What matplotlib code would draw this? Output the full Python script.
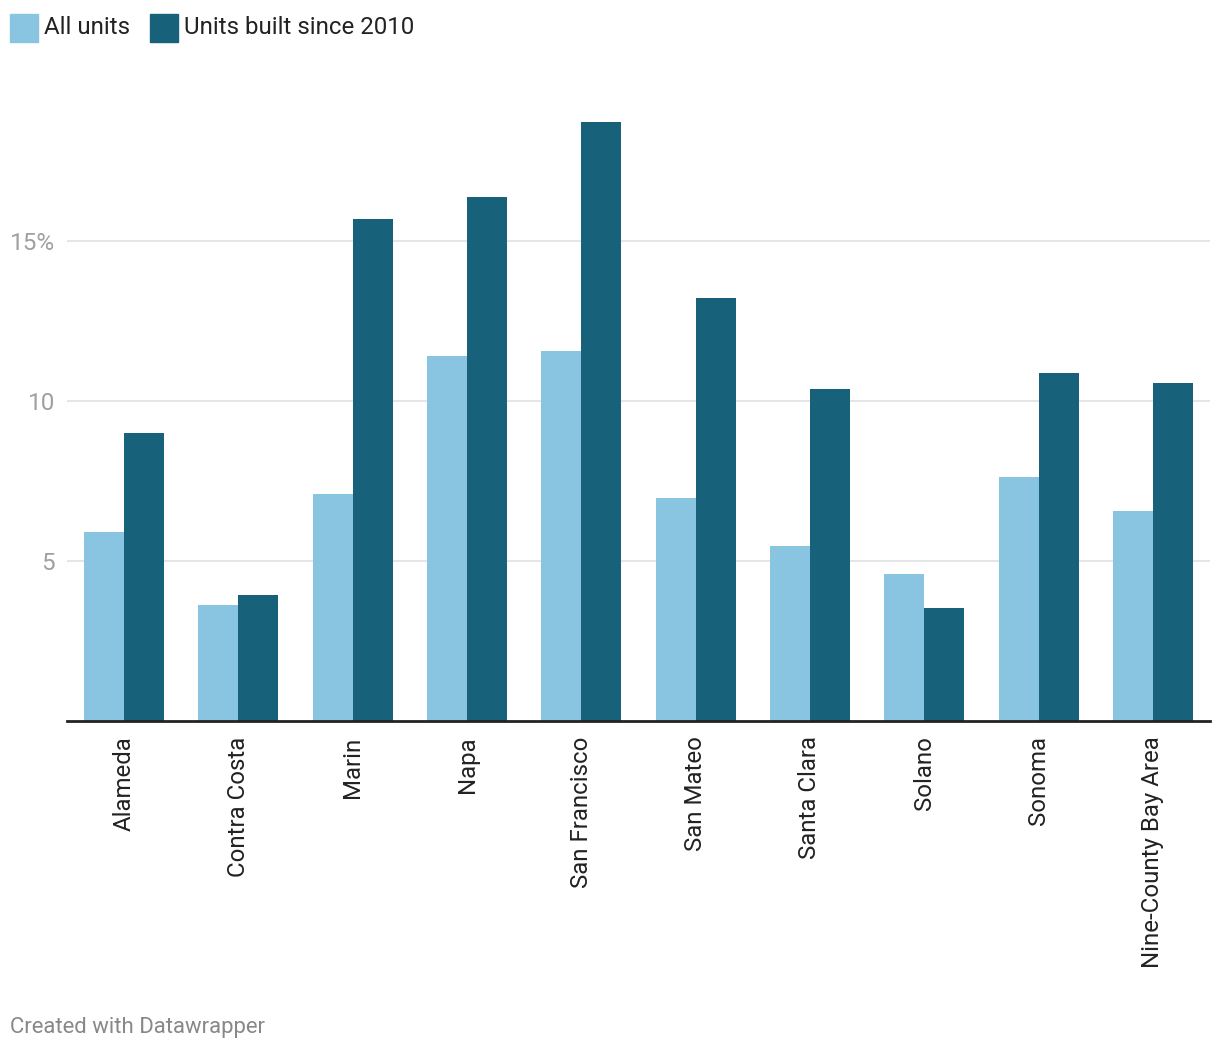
import matplotlib
matplotlib.use("Agg")
import matplotlib.pyplot as plt
import numpy as np
from matplotlib.patches import Rectangle

categories = ["Alameda", "Contra Costa", "Marin", "Napa", "San Francisco",
              "San Mateo", "Santa Clara", "Solano", "Sonoma", "Nine-County Bay Area"]
all_units = [5.9, 3.63, 7.09, 11.41, 11.56, 6.97, 5.47, 4.59, 7.63, 6.56]
since_2010 = [9.0, 3.94, 15.69, 16.38, 18.72, 13.22, 10.38, 3.53, 10.88, 10.56]
series_names = ["All units", "Units built since 2010"]
y_ticks = [5, 10, 15]
y_tick_labels = ["5", "10", "15%"]

light = "#89c4e1"
dark = "#17617a"

plt.rcParams['font.family'] = ['Roboto', 'DejaVu Sans']

W, H = 1220, 1050
fig = plt.figure(figsize=(W / 100, H / 100), dpi=100)
ax = fig.add_axes([67 / W, (H - 721) / H, (1210 - 67) / W, (721 - 113) / H])

x = np.arange(len(categories))
bw = 0.35
ax.bar(x - bw / 2, all_units, width=bw, color=light, zorder=3)
ax.bar(x + bw / 2, since_2010, width=bw, color=dark, zorder=3)

ax.set_xlim(-0.5, len(categories) - 0.5)
ax.set_ylim(0, 19)
for s in ["top", "right", "left"]:
    ax.spines[s].set_visible(False)
ax.spines["bottom"].set_color("#222222")
ax.spines["bottom"].set_linewidth(2)
ax.spines["bottom"].set_zorder(5)

ax.set_yticks(y_ticks)
ax.set_yticklabels(y_tick_labels, color="#a0a0a0", fontsize=17.5)
ax.tick_params(axis="y", length=0, pad=8.5)
ax.grid(axis="y", color="#e3e3e3", linewidth=1.3, zorder=0)

ax.set_xticks(x)
ax.set_xticklabels(categories, rotation=90, fontsize=17.3, color="#222222",
                   ha="center", va="top")
ax.tick_params(axis="x", length=0, pad=11)

# legend
for i, (name, col, x0) in enumerate(zip(series_names, [light, dark], [10, 150])):
    fig.patches.append(Rectangle((x0 / W, (H - 42) / H), 28 / W, 28 / H,
                                 transform=fig.transFigure, color=col))
    fig.text((x0 + 34) / W, (H - 27) / H, name, fontsize=17.3, color="#222222",
             ha="left", va="center")

fig.text(10 / W, (H - 1027) / H, "Created with Datawrapper", fontsize=15.9,
         color="#888888", ha="left", va="center")

fig.savefig("out.png", dpi=100, facecolor="white")
